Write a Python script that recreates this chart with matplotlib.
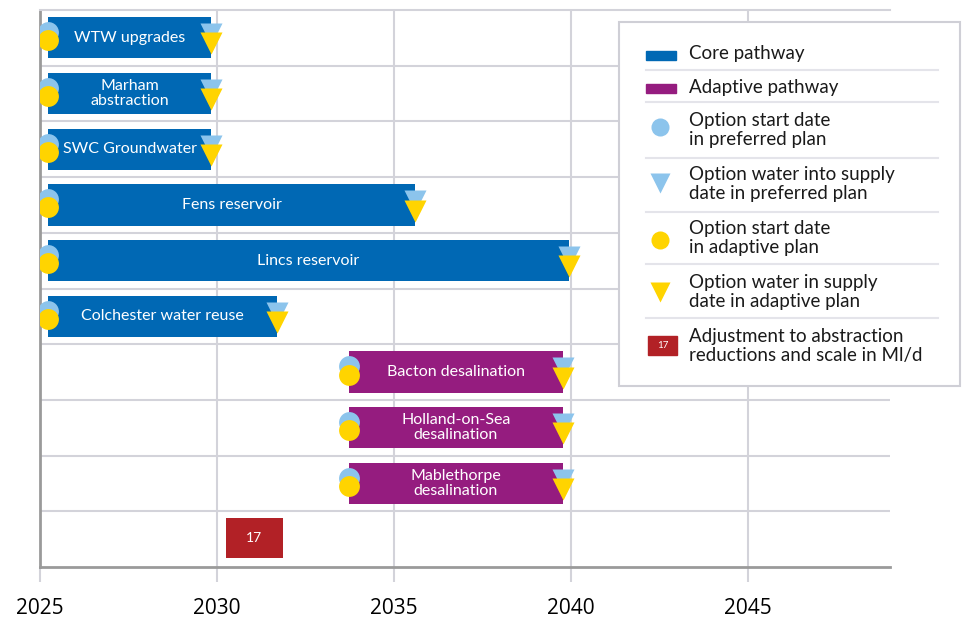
import matplotlib.pyplot as plt
from matplotlib.patches import Rectangle

plt.rcParams['font.family'] = ['Lato', 'DejaVu Sans']

# Options and their dates (years)
core_names = ['WTW upgrades', 'Marham\nabstraction', 'SWC Groundwater',
              'Fens reservoir', 'Lincs reservoir', 'Colchester water reuse']
core_start = [2025.23, 2025.23, 2025.23, 2025.23, 2025.23, 2025.23]
core_end = [2029.83, 2029.83, 2029.83, 2035.6, 2039.93, 2031.7]

adaptive_names = ['Bacton desalination', 'Holland-on-Sea\ndesalination',
                  'Mablethorpe\ndesalination']
adaptive_start = [2033.73, 2033.73, 2033.73]
adaptive_end = [2039.77, 2039.77, 2039.77]

# Adjustment to abstraction reductions
adjust_start = 2030.25
adjust_end = 2031.86
adjust_value = 17

years = [2025, 2030, 2035, 2040, 2045]

CORE = '#0068B4'
ADAPT = '#951C7F'
LBLUE = '#8CC4EC'
YELLOW = '#FFD400'
RED = '#B22126'
GRID = '#D3D3DA'

fig = plt.figure(figsize=(9.7, 6.17), dpi=100)
ax = fig.add_axes([40 / 970, 50 / 617, 850 / 970, 557 / 617])
ax.set_xlim(2025, 2049.01)
ax.set_ylim(10, 0)

# row separators and year gridlines
for r in range(1, 10):
    ax.axhline(r, color=GRID, lw=1.5, zorder=0)
for yr in years[1:]:
    ax.axvline(yr, color=GRID, lw=1.5, zorder=0)

bar_h = 0.74
names = core_names + adaptive_names
starts = core_start + adaptive_start
ends = core_end + adaptive_end
colors = [CORE] * len(core_names) + [ADAPT] * len(adaptive_names)

for i, (name, s, e, c) in enumerate(zip(names, starts, ends, colors)):
    y = i + 0.5
    ax.barh(y, e - s, left=s, height=bar_h, color=c, zorder=2)
    ax.text((s + e) / 2, y, name, ha='center', va='center', color='white',
            fontsize=11.5, linespacing=1.1, zorder=3)
    # start markers: preferred plan behind adaptive plan
    ax.plot(s, y - 0.1, 'o', ms=15, color=LBLUE, mec='none', zorder=4)
    ax.plot(s, y + 0.045, 'o', ms=15, color=YELLOW, mec='none', zorder=5)
    # water into supply markers
    ax.plot(e, y - 0.065, 'v', ms=16, color=LBLUE, mec='none', zorder=4)
    ax.plot(e, y + 0.1, 'v', ms=16, color=YELLOW, mec='none', zorder=5)

ya = 9.48
ax.barh(ya, adjust_end - adjust_start, left=adjust_start, height=0.72,
        color=RED, zorder=2)
ax.text((adjust_start + adjust_end) / 2, ya, str(adjust_value), ha='center',
        va='center', color='white', fontsize=10, zorder=3)

for side in ['left', 'bottom']:
    ax.spines[side].set_color('#9A9A9A')
    ax.spines[side].set_linewidth(2)
ax.spines['top'].set_color(GRID)
ax.spines['top'].set_linewidth(1.5)
ax.spines['right'].set_visible(False)

ax.set_yticks([])
ax.set_xticks(years)
ax.set_xticklabels([str(y) for y in years], fontfamily=['Open Sans', 'DejaVu Sans'])
ax.tick_params(axis='x', length=11, width=1.5, color=GRID, labelsize=15, pad=11)

# legend drawn in figure pixel coordinates
lg = fig.add_axes([0, 0, 1, 1], zorder=10)
lg.set_xlim(0, 970)
lg.set_ylim(617, 0)
lg.axis('off')
lg.add_patch(Rectangle((619, 22), 341, 364, facecolor='white',
                       edgecolor='#CFCFD6', lw=1.5))

legend_rows = [
    ('Core pathway', 54),
    ('Adaptive pathway', 87),
    ('Option start date\nin preferred plan', 130),
    ('Option water into supply\ndate in preferred plan', 184),
    ('Option start date\nin adaptive plan', 238),
    ('Option water in supply\ndate in adaptive plan', 292),
    ('Adjustment to abstraction\nreductions and scale in Ml/d', 346),
]
for label, y in legend_rows:
    lg.text(689, y, label, ha='left', va='center', fontsize=13.5,
            linespacing=1.12, color='#1A1A1A')
for y in [70, 102, 158, 212, 264, 318]:
    lg.plot([646, 938], [y, y], color='#E4E4EA', lw=1.5)

lg.add_patch(Rectangle((646, 51), 30, 9, color=CORE))
lg.add_patch(Rectangle((646, 84), 30, 9, color=ADAPT))
lg.plot(660, 127, 'o', ms=13, color=LBLUE, mec='none')
lg.plot(660, 183, 'v', ms=14, color=LBLUE, mec='none')
lg.plot(660, 240, 'o', ms=13, color=YELLOW, mec='none')
lg.plot(660, 292, 'v', ms=14, color=YELLOW, mec='none')
lg.add_patch(Rectangle((648, 336), 29, 19, color=RED))
lg.text(662.5, 345.5, '17', ha='center', va='center', color='white', fontsize=7)

fig.savefig('out.png', dpi=100)
